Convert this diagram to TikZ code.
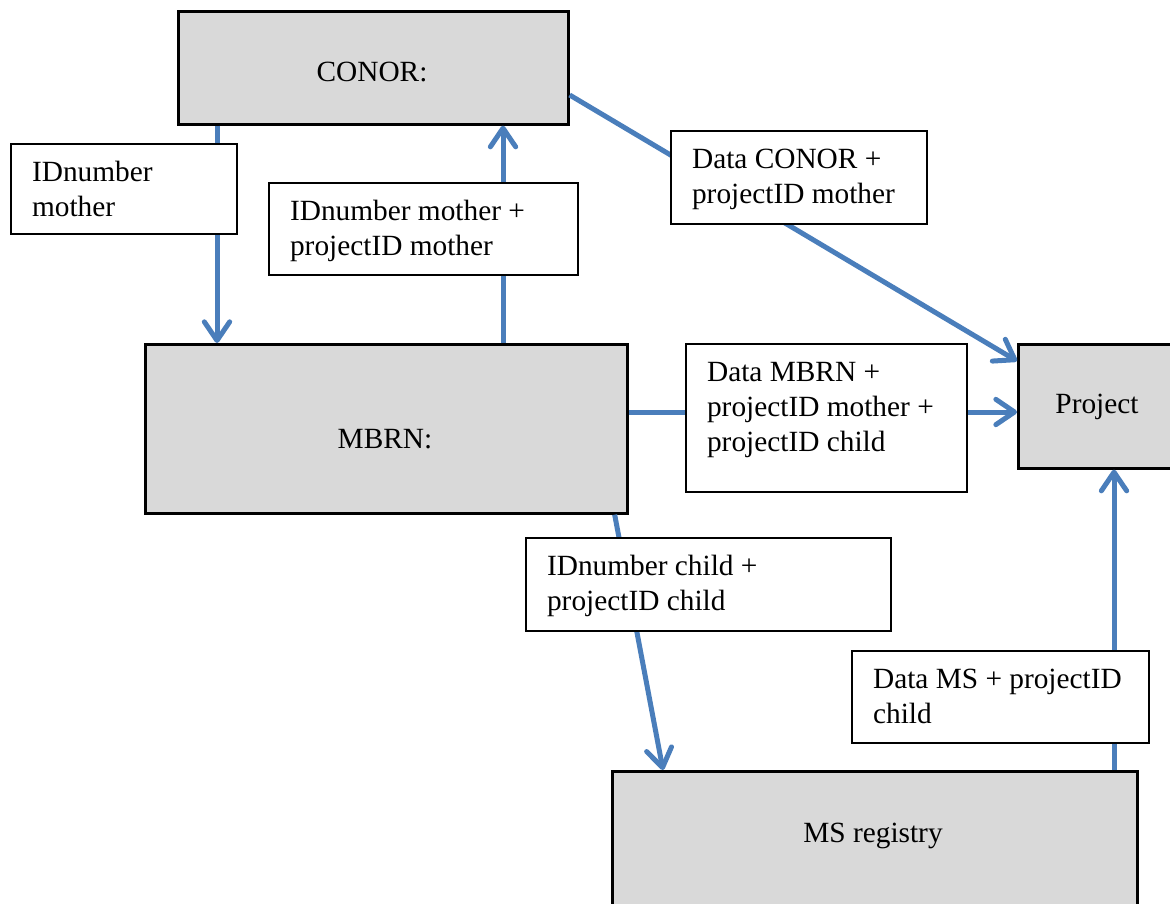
\documentclass[tikz,border=0pt]{standalone}
\usepackage{fontspec}
\setmainfont{Liberation Serif}
\usetikzlibrary{arrows.meta,calc}
\definecolor{arrowblue}{RGB}{74,126,187}
\definecolor{boxgray}{RGB}{217,217,217}
\newdimen\pxu \pxu=0.75pt
\newcommand\lbx[3]{\parbox[c][#2\pxu][t]{\dimexpr#1\pxu-42\pxu\relax}{\raggedright\rule{0pt}{37.5\pxu}#3}}
\tikzset{
  graybox/.style={draw=black, line width=2pt, fill=boxgray, inner sep=0pt, anchor=north west},
  lbl/.style={draw=black, line width=1.6pt, fill=white, inner xsep=15.75pt, inner ysep=0pt, anchor=north west},
  flow/.style={draw=arrowblue, line width=3.75pt, -{Straight Barb[round,length=14pt,width=19pt]}},
  boxtext/.style={inner sep=0pt, anchor=base}
}
\begin{document}
\begin{tikzpicture}[x=0.75pt, y=-0.75pt, font=\fontsize{22}{26.25}\selectfont]
\useasboundingbox (0,0) rectangle (1170,903);
\clip (0,0) rectangle (1170,903);
% main boxes
\node[graybox, minimum width=292.5pt, minimum height=84.75pt] (conor) at (177,10) {};
\node[graybox, minimum width=361.5pt, minimum height=126.75pt] (mbrn) at (144,343) {};
\node[graybox, minimum width=120pt, minimum height=93pt] (project) at (1017,343) {};
\node[graybox, minimum width=393.75pt, minimum height=105pt] (ms) at (611,770) {};
\node[boxtext] (conorT) at ($(conor.north west)+(195,71)$) {CONOR:};
\node[boxtext] (mbrnT) at ($(mbrn.north west)+(241,105)$) {MBRN:};
\node[boxtext] (projectT) at ($(project.north west)+(80,70)$) {Project};
\node[boxtext] (msT) at ($(ms.north west)+(262,72)$) {MS registry};
% connectors
\draw[flow] ($(conor.south west)+(40,0)$) -- ($(mbrn.north west)+(73,0)$);
\draw[flow] ($(mbrn.north west)+(359,0)$) -- ($(conor.south west)+(326,0)$);
\draw[flow] ($(conor.north east)+(0,85)$) -- ($(project.north west)+(0,18)$);
\draw[flow] ($(mbrn.north east)+(0,69)$) -- ($(project.north west)+(0,69)$);
\draw[flow] ($(mbrn.south east)+(-14,0)$) -- ($(ms.north west)+(52,0)$);
\draw[flow] ($(ms.north west)+(503,0)$) -- ($(project.south west)+(97,0)$);
% label boxes
\node[lbl] (la) at (10,143) {\lbx{226}{90}{IDnumber\\mother}};
\node[lbl] (lb) at (268,182) {\lbx{309}{92}{IDnumber mother +\\projectID mother}};
\node[lbl] (lc) at (670,130) {\lbx{256}{93}{Data CONOR +\\projectID mother}};
\node[lbl] (ld) at (685,343) {\lbx{281}{148}{Data MBRN +\\projectID mother +\\projectID child}};
\node[lbl] (le) at (525,537) {\lbx{365}{93}{IDnumber child +\\projectID child}};
\node[lbl] (lf) at (851,650) {\lbx{297}{92}{Data MS + projectID\\child}};
\end{tikzpicture}
\end{document}
